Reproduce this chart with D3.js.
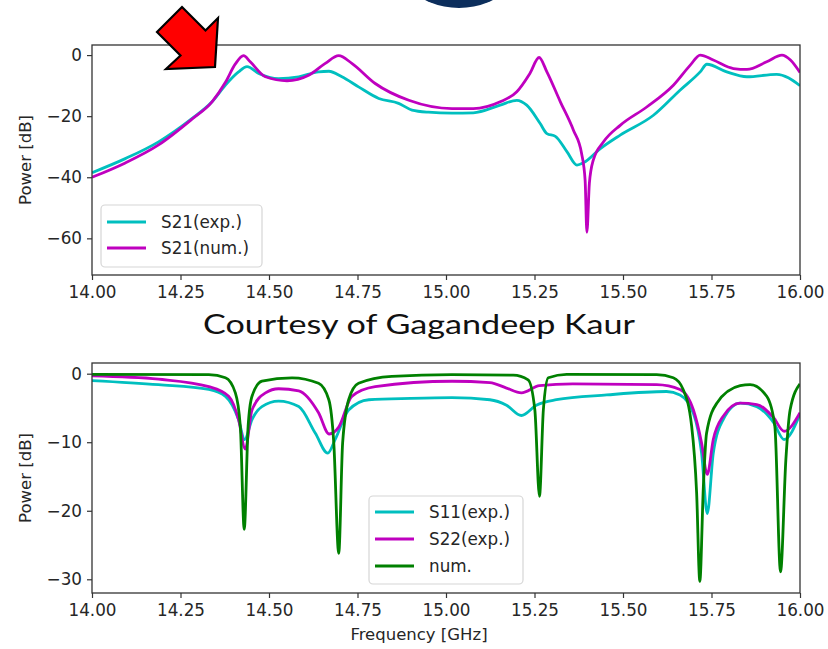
<!DOCTYPE html>
<html>
<head>
<meta charset="utf-8">
<script src="https://cdn.jsdelivr.net/npm/d3@7"></script>
<style>
  body { margin: 0; background: #fff; }
  svg { display: block; }
  .tick text { font-family: "DejaVu Sans", sans-serif; font-size: 16.8px; fill: #262626; }
  .tick line { stroke: #333; stroke-width: 1.2; }
  .domain { display: none; }
</style>
</head>
<body>
<svg width="828" height="649"></svg>
<script>
// S21 (top panel)
var fS21exp = [14.00,14.094,14.188,14.282,14.339,14.377,14.414,14.438,14.471,14.527,14.584,14.640,14.669,14.706,14.753,14.810,14.866,14.904,14.950,15.017,15.077,15.153,15.200,15.228,15.266,15.285,15.309,15.342,15.370,15.389,15.436,15.492,15.586,15.661,15.718,15.737,15.793,15.850,15.934,16.00];
var s21exp  = [-38.5,-33.9,-28.4,-20.8,-15.3,-9.8,-5.5,-3.8,-6.0,-7.7,-7.1,-5.5,-5.3,-7.1,-10.4,-14.2,-15.8,-18.0,-18.7,-19.0,-18.9,-16.4,-14.8,-16.4,-22.4,-25.7,-26.6,-31.7,-36.0,-35.2,-30.6,-26.2,-19.7,-11.5,-5.5,-3.0,-5.5,-7.1,-6.3,-10.0];
var fS21num = [14.00,14.094,14.188,14.282,14.339,14.377,14.405,14.428,14.447,14.490,14.551,14.612,14.659,14.697,14.734,14.800,14.895,15.017,15.077,15.153,15.200,15.237,15.263,15.285,15.323,15.360,15.383,15.393,15.398,15.405,15.416,15.445,15.492,15.567,15.643,15.690,15.718,15.755,15.812,15.850,15.906,15.949,15.973,16.00];
var s21num  = [-40.0,-35.3,-29.4,-21.0,-15.3,-8.9,-2.9,-0.2,-2.2,-7.1,-8.4,-6.6,-2.7,-0.2,-2.7,-9.3,-14.8,-17.5,-17.5,-15.3,-12.0,-6.0,-0.8,-5.5,-15.3,-24.6,-32.2,-41.0,-58.0,-42.0,-34.4,-28.4,-23.0,-17.0,-9.8,-3.3,0,-1.6,-4.4,-4.7,-2.2,0,-1.6,-5.7];

// S11 / S22 / num (bottom panel)
var fS11exp = [14.00,14.188,14.330,14.377,14.414,14.431,14.452,14.480,14.527,14.584,14.631,14.666,14.687,14.725,14.782,14.900,15.017,15.124,15.171,15.213,15.255,15.312,15.454,15.623,15.661,15.699,15.722,15.738,15.755,15.783,15.831,15.878,15.925,15.955,16.00];
var s11exp  = [-1.0,-1.6,-2.3,-3.3,-6.7,-9.6,-6.7,-4.8,-4.0,-4.8,-8.7,-11.6,-9.6,-5.3,-3.8,-3.6,-3.5,-3.8,-4.6,-6.1,-4.6,-3.8,-3.1,-2.6,-3.1,-5.8,-11.6,-20.4,-11.6,-6.7,-4.3,-4.8,-7.1,-9.6,-5.9];
var fS22exp = [14.00,14.188,14.330,14.386,14.414,14.433,14.452,14.490,14.527,14.584,14.640,14.670,14.697,14.734,14.800,15.017,15.124,15.171,15.213,15.264,15.358,15.595,15.661,15.699,15.722,15.738,15.755,15.783,15.831,15.878,15.925,15.955,16.00];
var s22exp  = [-0.3,-0.8,-1.9,-3.3,-6.7,-11.0,-5.3,-2.8,-2.2,-2.5,-5.7,-8.8,-7.8,-3.3,-1.9,-1.1,-1.3,-2.1,-2.8,-1.75,-1.5,-1.6,-2.3,-5.3,-10.1,-14.7,-9.6,-6.2,-4.3,-4.5,-6.4,-8.4,-5.7];
var fNum = [14.00,14.330,14.377,14.405,14.419,14.430,14.441,14.452,14.480,14.565,14.640,14.669,14.683,14.697,14.708,14.725,14.753,14.847,15.017,15.190,15.232,15.251,15.264,15.275,15.289,15.341,15.595,15.642,15.670,15.694,15.708,15.717,15.727,15.736,15.765,15.831,15.859,15.906,15.929,15.945,15.960,15.972,16.00];
var sNum = [-0.1,-0.15,-0.6,-2.8,-7.7,-22.7,-7.7,-3.3,-1.1,-0.6,-1.4,-3.8,-10.1,-26.2,-10.1,-3.8,-1.4,-0.4,-0.15,-0.2,-0.9,-5.3,-17.9,-5.3,-0.6,-0.1,-0.15,-0.6,-2.3,-7.7,-17.4,-30.3,-16.5,-8.7,-4.3,-1.75,-1.6,-3.3,-7.7,-28.9,-12.6,-5.3,-1.5];

var xTicks = [14.00,14.25,14.50,14.75,15.00,15.25,15.50,15.75,16.00];
var yTicksTop = [0,-20,-40,-60];
var yTicksBot = [0,-10,-20,-30];

(function () {
  var svg = d3.select("svg");
  var left = 92, right = 800;
  var font = '"DejaVu Sans", sans-serif';

  var x = d3.scaleLinear().domain([14, 16]).range([left, right]);

  function zip(f, v) {
    return f.map(function(d, i) { return [d, v[i]]; });
  }

  function panel(id, top, bottom, yDomain, yTicks, series, legendOpts) {
    var y = d3.scaleLinear().domain(yDomain).range([bottom, top]);
    var g = svg.append("g").attr("class", id);

    g.append("clipPath").attr("id", "clip-" + id)
      .append("rect").attr("x", left).attr("y", top)
      .attr("width", right - left).attr("height", bottom - top);

    var line = d3.line()
      .x(function(d) { return x(d[0]); })
      .y(function(d) { return y(d[1]); })
      .curve(d3.curveMonotoneX);

    g.append("g").attr("clip-path", "url(#clip-" + id + ")")
      .selectAll("path")
      .data(series)
      .enter().append("path")
      .attr("d", function(s) { return line(s.pts); })
      .attr("fill", "none")
      .attr("stroke", function(s) { return s.color; })
      .attr("stroke-width", 2.8)
      .attr("stroke-linejoin", "round");

    g.append("g")
      .attr("transform", "translate(0," + bottom + ")")
      .call(d3.axisBottom(x).tickValues(xTicks).tickFormat(d3.format(".2f")).tickSize(5).tickPadding(6));

    g.append("g")
      .attr("transform", "translate(" + left + ",0)")
      .call(d3.axisLeft(y).tickValues(yTicks).tickFormat(d3.format("d")).tickSize(5).tickPadding(5));

    g.append("rect")
      .attr("x", left).attr("y", top)
      .attr("width", right - left).attr("height", bottom - top)
      .attr("fill", "none").attr("stroke", "#333").attr("stroke-width", 1.3);

    g.append("text")
      .attr("transform", "translate(25," + (top + bottom) / 2 + ") rotate(-90)")
      .attr("text-anchor", "middle")
      .attr("dominant-baseline", "central")
      .style("font-family", font).style("font-size", "16.5px").attr("fill", "#262626")
      .text("Power [dB]");

    // legend
    var lg = g.append("g");
    lg.append("rect")
      .attr("x", legendOpts.x).attr("y", legendOpts.y)
      .attr("width", legendOpts.w).attr("height", legendOpts.h)
      .attr("rx", 4)
      .attr("fill", "#fff").attr("fill-opacity", 0.8)
      .attr("stroke", "#d6d6d6").attr("stroke-width", 1.2);
    series.forEach(function(s, i) {
      var yy = legendOpts.y0 + i * legendOpts.dy;
      lg.append("line")
        .attr("x1", legendOpts.x + 6).attr("x2", legendOpts.x + 45)
        .attr("y1", yy).attr("y2", yy)
        .attr("stroke", s.color).attr("stroke-width", 2.8);
      lg.append("text")
        .attr("x", legendOpts.x + 60).attr("y", yy)
        .attr("dominant-baseline", "central")
        .style("font-family", font).style("font-size", "16.8px").attr("fill", "#262626")
        .text(s.name);
    });
    return y;
  }

  panel("top", 45, 275, [-72, 3.3], yTicksTop, [
    { name: "S21(exp.)", color: "#00bfbf", pts: zip(fS21exp, s21exp) },
    { name: "S21(num.)", color: "#bf00bf", pts: zip(fS21num, s21num) }
  ], { x: 101, y: 205, w: 161, h: 62, y0: 222, dy: 26 });

  panel("bot", 363, 593, [-32, 1.56], yTicksBot, [
    { name: "S11(exp.)", color: "#00bfbf", pts: zip(fS11exp, s11exp) },
    { name: "S22(exp.)", color: "#bf00bf", pts: zip(fS22exp, s22exp) },
    { name: "num.", color: "#008000", pts: zip(fNum, sNum) }
  ], { x: 369, y: 496, w: 154, h: 88, y0: 512, dy: 27 });

  svg.append("text")
    .attr("x", 419).attr("y", 640)
    .attr("text-anchor", "middle")
    .style("font-family", font).style("font-size", "16.5px").attr("fill", "#262626")
    .text("Frequency [GHz]");

  // caption between panels
  svg.append("text")
    .attr("x", 203).attr("y", 334)
    .attr("textLength", 432).attr("lengthAdjust", "spacingAndGlyphs")
    .style("font-family", "Lato, 'Open Sans', sans-serif").style("font-size", "27px").attr("fill", "#111")
    .text("Courtesy of Gagandeep Kaur");

  // navy disc cut off at the top edge
  svg.append("circle")
    .attr("cx", 459).attr("cy", -68).attr("r", 76)
    .attr("fill", "#0c2e5c");

  // red block arrow
  var arrow = [[182,7],[205.5,30.5],[218,18],[215,67],[166,69],[180.5,55.5],[157,32]];
  svg.append("polygon")
    .attr("points", arrow.map(function(p) { return p.join(","); }).join(" "))
    .attr("fill", "#ff0000").attr("stroke", "#000").attr("stroke-width", 2.2)
    .attr("stroke-linejoin", "miter");
})();
</script>
</body>
</html>
